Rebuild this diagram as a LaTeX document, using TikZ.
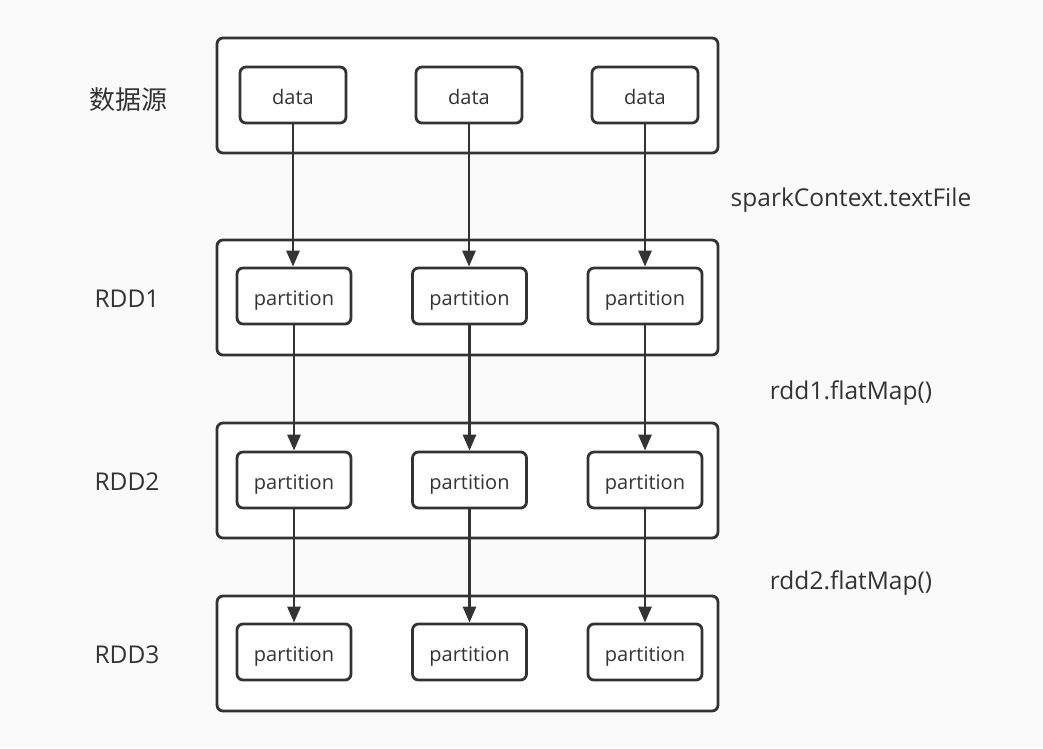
\documentclass[tikz,border=0pt]{standalone}
\usepackage{fontspec}
\setmainfont{Open Sans}
\newfontfamily\cjk{Noto Sans CJK SC}
\usetikzlibrary{arrows.meta}
\definecolor{linegray}{HTML}{333333}
\definecolor{bggray}{HTML}{FAFAFA}
\begin{document}
\begin{tikzpicture}[x=1pt,y=-1pt,
layer/.style={rectangle,draw=linegray,line width=2.8pt,fill=white,rounded corners=6pt,minimum width=501pt,minimum height=115pt},
cell/.style={rectangle,draw=linegray,line width=2.8pt,fill=white,rounded corners=6pt,minimum height=56pt,inner sep=0pt,text height=19pt,text depth=0pt,font=\fontsize{20}{24}\selectfont,text=linegray},
flow/.style={draw=linegray,line width=2.8pt,-{Triangle[length=16pt,width=13pt]}},
tag/.style={font=\fontsize{24.5}{30}\selectfont,text=linegray}]
\fill[bggray] (0,0) rectangle (1043,748);
\useasboundingbox (0,0) rectangle (1043,748);
% layers
\node[layer] (Src) at (467.5,95.5) {};
\node[layer] (R1) at (467.5,297.5) {};
\node[layer] (R2) at (467.5,480.5) {};
\node[layer] (R3) at (467.5,653.5) {};
% data sources
\node[cell,minimum width=106pt] (d1) at (293,95) {data};
\node[cell,minimum width=106pt] (d2) at (469,95) {data};
\node[cell,minimum width=106pt] (d3) at (645,95) {data};
% partitions
\foreach \r/\y in {1/296,2/480,3/652}{
  \node[cell,minimum width=114pt] (p\r1) at (294,\y) {partition};
  \node[cell,minimum width=114pt] (p\r2) at (469.5,\y) {partition};
  \node[cell,minimum width=114pt] (p\r3) at (645,\y) {partition};
}
% arrows
\foreach \c in {1,2,3}{
  \draw[flow] (d\c.south) -- (d\c.south |- p1\c.north);
  \draw[flow] (p1\c.south) -- (p1\c.south |- p2\c.north);
  \draw[flow] (p2\c.south) -- (p2\c.south |- p3\c.north);
}
% labels
\node[tag,font=\cjk\fontsize{26}{30}\selectfont] (tSrc) at (128,100) {数据源};
\node[tag] (tR1) at (127,299) {RDD1};
\node[tag] (tR2) at (127,482) {RDD2};
\node[tag] (tR3) at (127,655) {RDD3};
\node[tag] (op1) at (851,200) {sparkContext.textFile};
\node[tag] (op2) at (851,393) {rdd1.flatMap()};
\node[tag] (op3) at (851,583) {rdd2.flatMap()};
\end{tikzpicture}
\end{document}
